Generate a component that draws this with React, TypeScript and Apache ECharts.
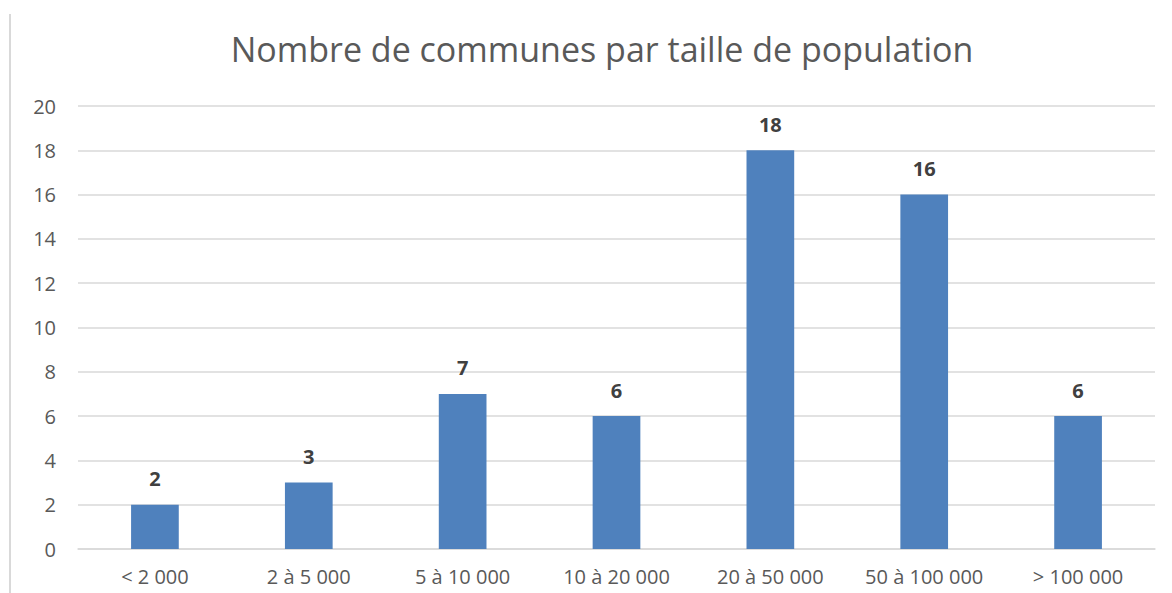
import React, { useEffect, useRef } from "react";
import * as echarts from "echarts";

const categories = ["< 2 000", "2 à 5 000", "5 à 10 000", "10 à 20 000", "20 à 50 000", "50 à 100 000", "> 100 000"];
const values = [2, 3, 7, 6, 18, 16, 6];
const titleText = "Nombre de communes par taille de population";

export default function App() {
  const ref = useRef<HTMLDivElement>(null);
  useEffect(() => {
    const chart = echarts.init(ref.current!, null, { renderer: "svg" });
    chart.setOption({
      animation: false,
      backgroundColor: "#ffffff",
      title: {
        text: titleText,
        left: 597,
        textAlign: "center",
        top: 27,
        textStyle: { fontFamily: "Open Sans", fontSize: 34, fontWeight: "normal", color: "#595959" },
      },
      graphic: [
        { type: "line", shape: { x1: 10, y1: 14, x2: 10, y2: 593 }, style: { stroke: "#d9d9d9", lineWidth: 2 } },
      ],
      grid: { left: 78, right: 17, top: 106, bottom: 44 },
      xAxis: {
        type: "category",
        data: categories,
        axisLine: { lineStyle: { color: "#d9d9d9", width: 1.5 } },
        axisTick: { show: false },
        axisLabel: { interval: 0, hideOverlap: false, fontFamily: "Open Sans", fontSize: 20, color: "#595959", margin: 17 },
      },
      yAxis: {
        type: "value",
        min: 0,
        max: 20,
        interval: 2,
        splitLine: { lineStyle: { color: "#d9d9d9", width: 1.5 } },
        axisLine: { show: false },
        axisTick: { show: false },
        axisLabel: { fontFamily: "Open Sans", fontSize: 20, color: "#595959", margin: 22, align: "right" },
      },
      series: [
        {
          type: "bar",
          data: values,
          barWidth: "31%",
          itemStyle: { color: "#4f81bd" },
          label: {
            show: true,
            position: "top",
            distance: 16,
            fontFamily: "Open Sans",
            fontSize: 20,
            fontWeight: "bold",
            color: "#404040",
          },
        },
      ],
    });
    return () => chart.dispose();
  }, []);
  return <div ref={ref} style={{ position: "fixed", left: 0, top: 0, width: 1172, height: 593 }} />;
}
